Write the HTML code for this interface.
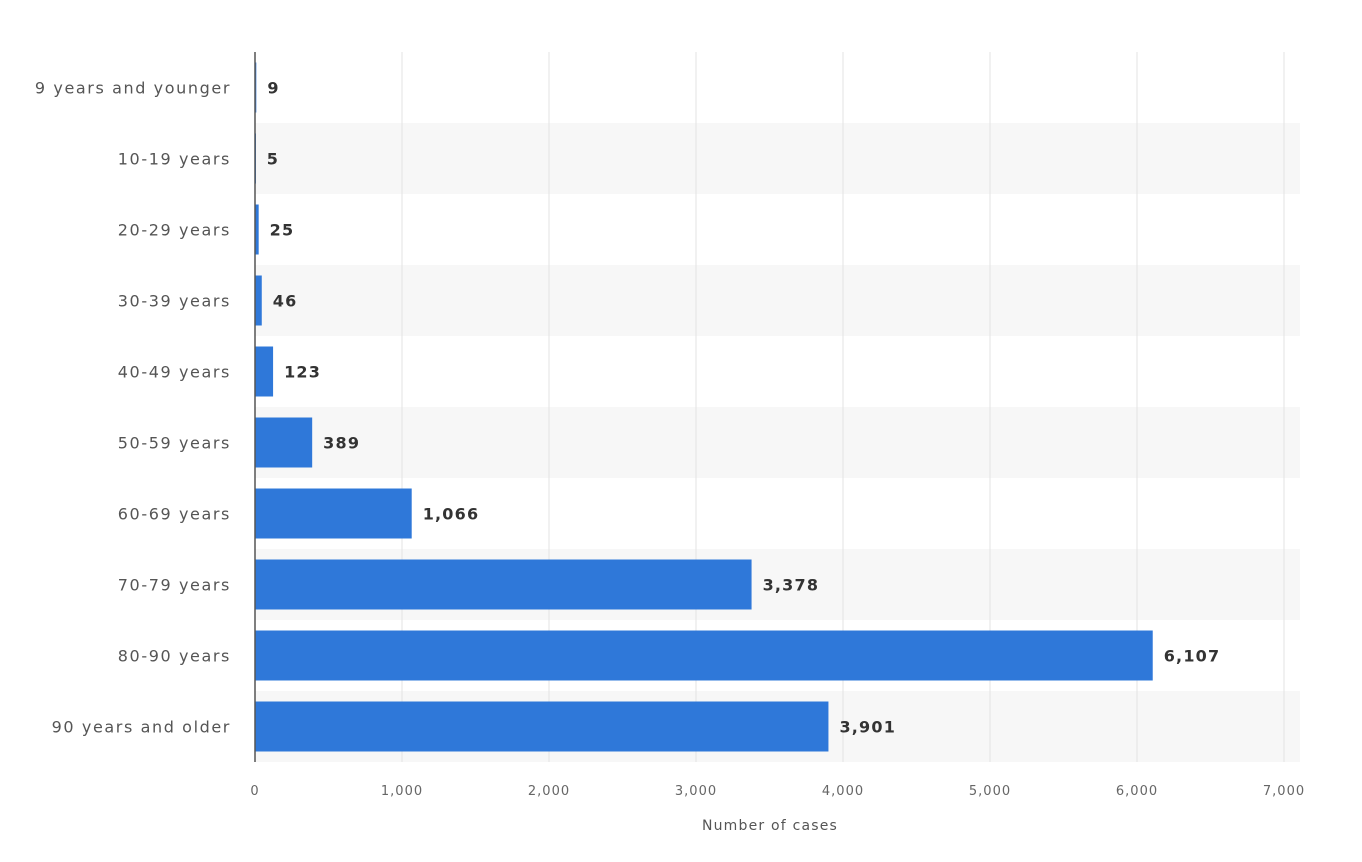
<!DOCTYPE html>
<html><head><meta charset="utf-8"><style>
html,body{margin:0;padding:0;background:#fff;}
svg{display:block;font-family:"DejaVu Sans","Liberation Sans",Arial,sans-serif;}
</style></head><body>
<svg id="chart" width="1362" height="862"></svg>
<script>
const categories = ["9 years and younger","10-19 years","20-29 years","30-39 years","40-49 years","50-59 years","60-69 years","70-79 years","80-90 years","90 years and older"];
const values = [9,5,25,46,123,389,1066,3378,6107,3901];
const ticks = [0,1000,2000,3000,4000,5000,6000,7000];
const tickLabels = ["0","1,000","2,000","3,000","4,000","5,000","6,000","7,000"];
const NS="http://www.w3.org/2000/svg";
const svgEl=document.getElementById('chart');
const x0=255, pxPer=147.0/1000, plotTop=52, band=71, barH=50;
const xs=v=>x0+v*pxPer;
const ys=i=>plotTop+i*band;
function mk(t,a){const e=document.createElementNS(NS,t);for(const k in a)e.setAttribute(k,a[k]);svgEl.appendChild(e);return e;}
categories.forEach((c,i)=>{
  if(i%2===1){const r=mk('rect',{x:x0,y:ys(i),width:1045,height:band,fill:'#f7f7f7'});
  
  }
});
ticks.forEach((t,i)=>{
  if(t>0){const l=mk('line',{x1:xs(t),x2:xs(t),y1:plotTop,y2:plotTop+band*categories.length,stroke:'#e3e3e3','stroke-width':1});
  
  }
  const tx=mk('text',{x:xs(t),y:795,'text-anchor':'middle','font-size':13,fill:'#666','letter-spacing':1});
  tx.textContent=tickLabels[i];
  
  
});
categories.forEach((c,i)=>{
  const cy=ys(i)+band/2;
  const b=mk('rect',{x:x0,y:cy-barH/2,width:Math.max(values[i]*pxPer,1),height:barH,fill:'#2f78d9'});
  
  
  const lab=mk('text',{x:231,y:cy+6,'text-anchor':'end','font-size':16,fill:'#555','letter-spacing':1.6});
  lab.textContent=c;
  
  
  const v=mk('text',{x:xs(values[i])+11,y:cy+6,'font-size':16,'font-weight':'bold',fill:'#333','letter-spacing':1.2});
  v.textContent=values[i].toLocaleString('en-US');
  
  
});
const ax=mk('line',{x1:x0,x2:x0,y1:plotTop,y2:plotTop+band*categories.length,stroke:'#555','stroke-width':1.5});


const at=mk('text',{x:770,y:830,'text-anchor':'middle','font-size':14,fill:'#555','letter-spacing':1.2});
at.textContent="Number of cases";


</script>
</body></html>
